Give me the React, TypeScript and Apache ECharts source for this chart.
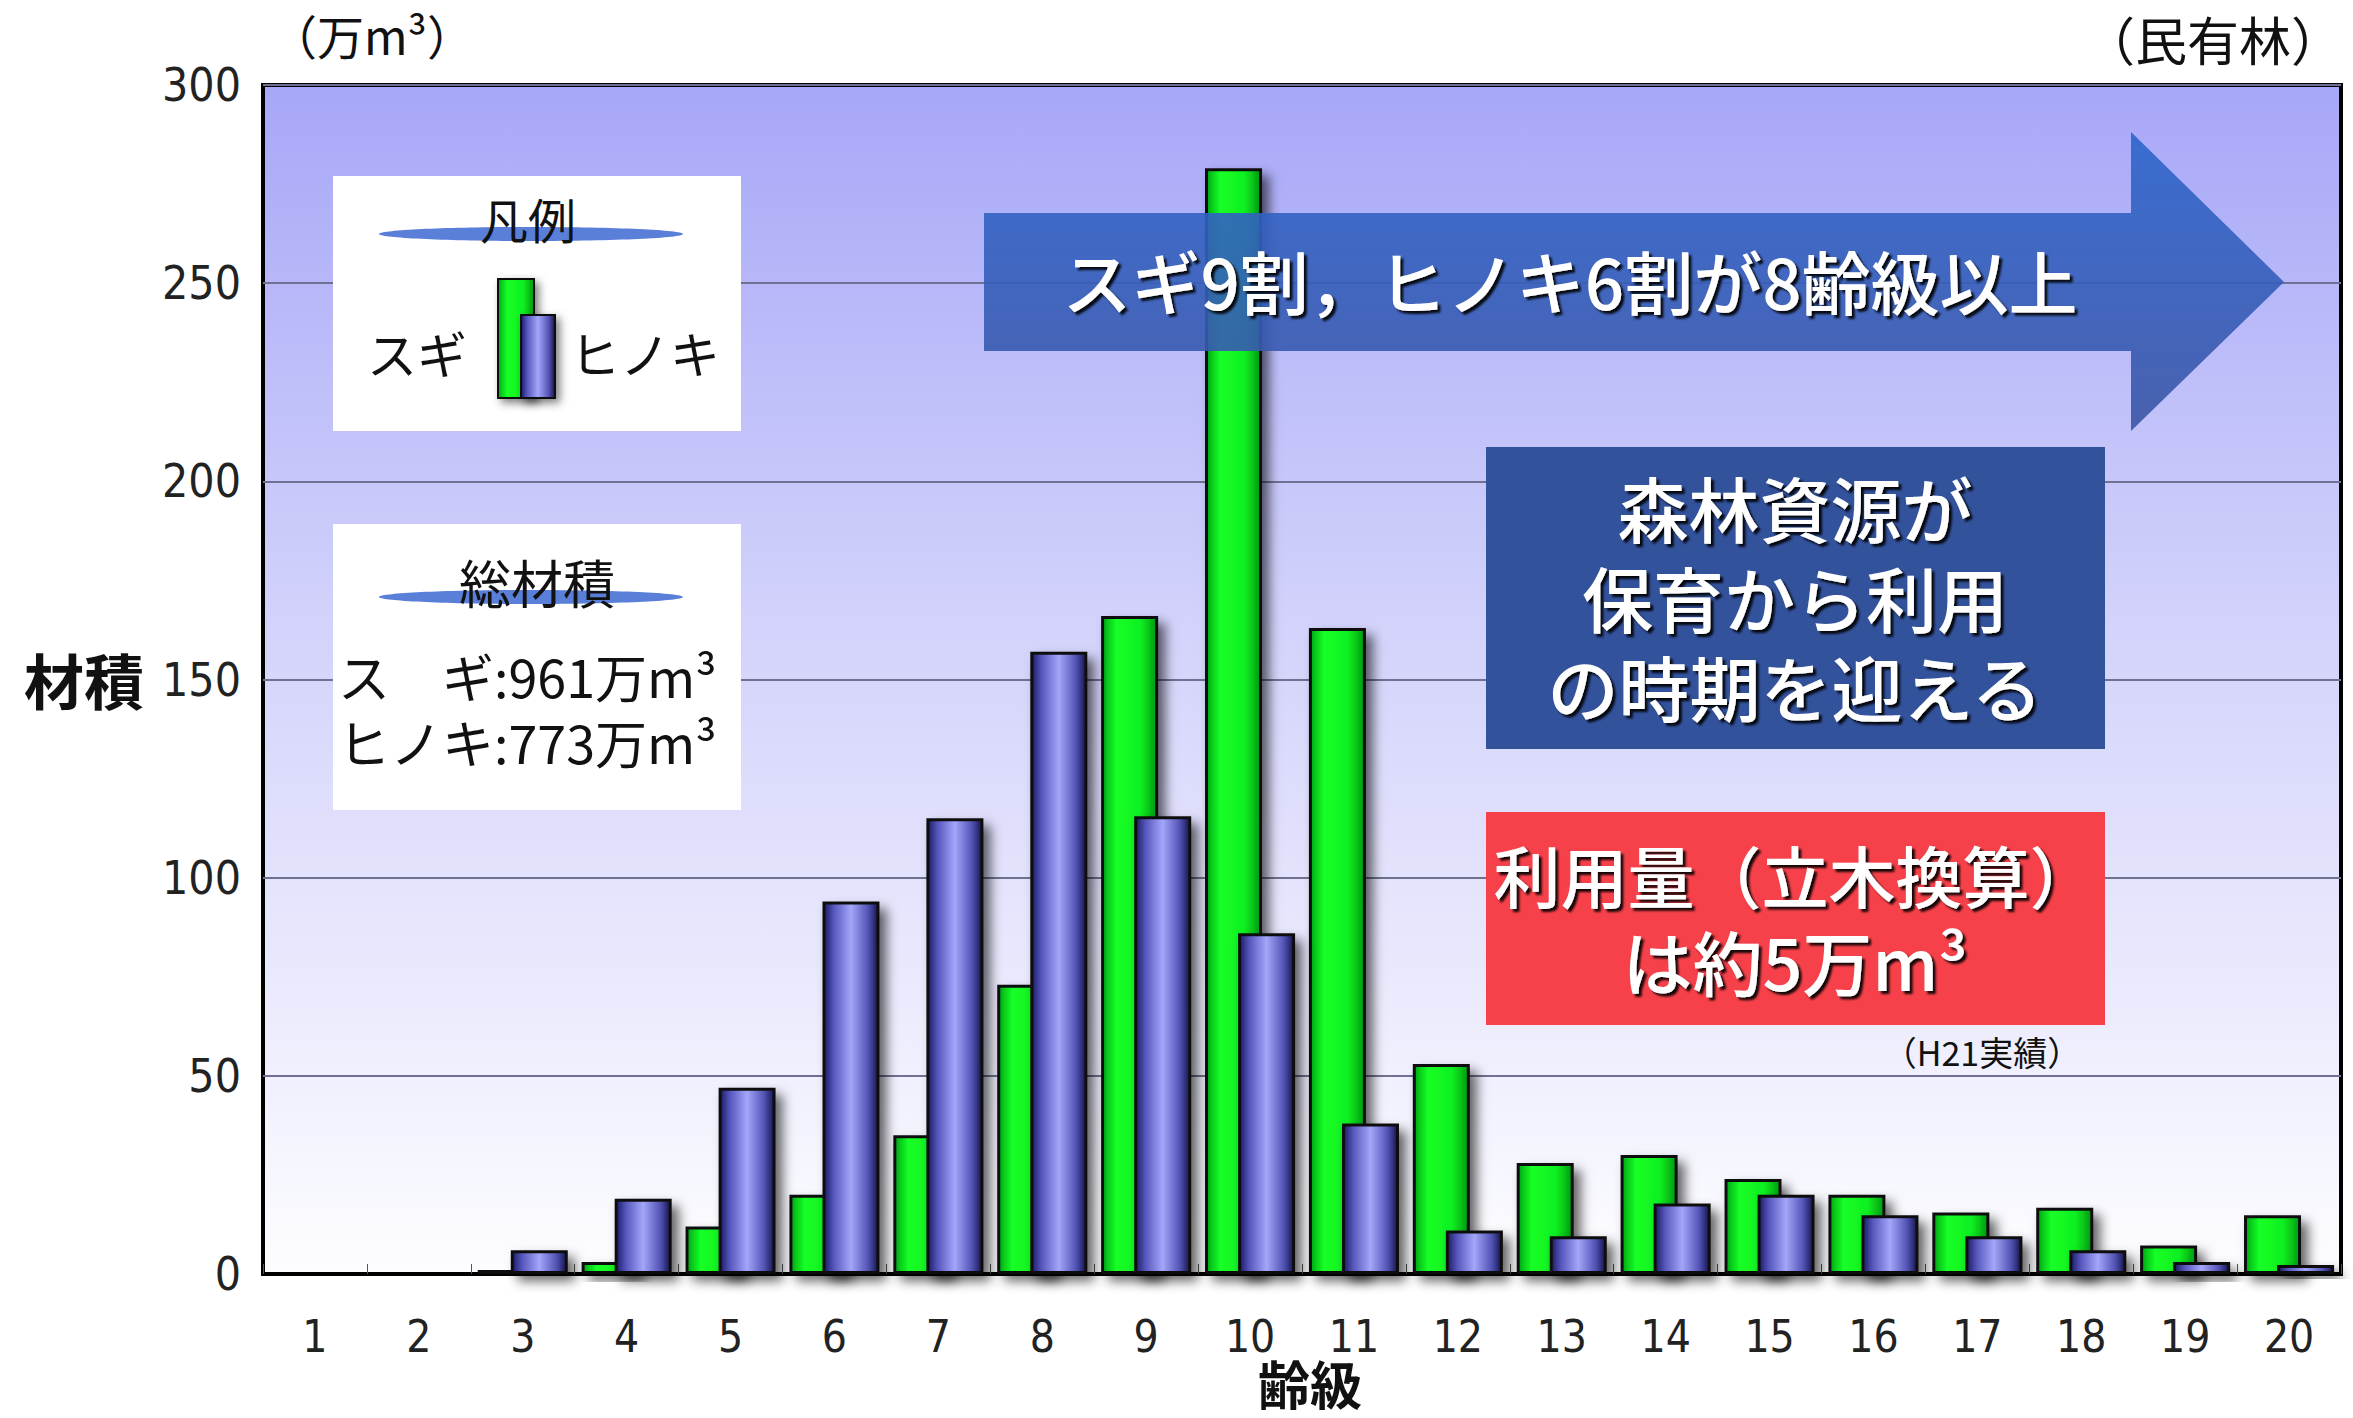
import React, { useEffect, useRef } from "react";
import * as echarts from "echarts";

const categories = ["1","2","3","4","5","6","7","8","9","10","11","12","13","14","15","16","17","18","19","20"];
const sugiValues = [0, 0, 1, 3, 12, 20, 35, 73, 166, 279, 163, 53, 28, 30, 24, 20, 15.5, 16.7, 7.2, 14.8];
const hinokiValues = [0, 0, 6, 19, 47, 94, 115, 157, 115.5, 86, 38, 11, 9.5, 17.8, 20, 14.8, 9.5, 6, 3, 2.3];
const yMin = 0;
const yMax = 300;
const yInterval = 50;

const AXIS_FONT = '"Liberation Sans Narrow", "Arial Narrow", "DejaVu Sans Condensed", sans-serif';
const JP_FONT = '"Noto Sans CJK JP", "Noto Sans", sans-serif';

const greenFill = {
  type: "linear", x: 0, y: 0, x2: 1, y2: 0,
  colorStops: [
    { offset: 0, color: "#00a814" },
    { offset: 0.25, color: "#14ff26" },
    { offset: 0.7, color: "#10f020" },
    { offset: 1, color: "#009a10" },
  ],
};
const blueFill = {
  type: "linear", x: 0, y: 0, x2: 1, y2: 0,
  colorStops: [
    { offset: 0, color: "#1a1a66" },
    { offset: 0.18, color: "#5656bc" },
    { offset: 0.5, color: "#a3a6fa" },
    { offset: 0.82, color: "#5252b4" },
    { offset: 1, color: "#15154f" },
  ],
};

const whiteText = (text: string, x: number, y: number, size: number) => ({
  type: "text",
  x, y, z: 120,
  style: {
    text, x: 0, y: 0,
    fill: "#ffffff",
    font: `500 ${size}px ${JP_FONT}`,
    fontSize: size, fontFamily: JP_FONT, fontWeight: 500, lineHeight: size,
    align: "center", verticalAlign: "middle",
    textAlign: "center", textVerticalAlign: "middle",
    textShadowColor: "rgba(0,0,0,0.9)", textShadowBlur: 2, textShadowOffsetX: 3, textShadowOffsetY: 3,
  },
});

const blackText = (text: string, x: number, y: number, size: number, weight: any = "normal", align = "center") => ({
  type: "text",
  x, y, z: 120,
  style: {
    text, x: 0, y: 0,
    fill: "#111111",
    font: `${weight} ${size}px ${JP_FONT}`,
    fontSize: size, fontFamily: JP_FONT, fontWeight: weight, lineHeight: size,
    align, verticalAlign: "middle",
    textAlign: align, textVerticalAlign: "middle",
  },
});

const barShadow = {
  shadowColor: "rgba(0,0,0,0.6)", shadowBlur: 12, shadowOffsetX: 7, shadowOffsetY: 7,
};

export default function App() {
  const ref = useRef<HTMLDivElement>(null);
  useEffect(() => {
    if (!ref.current) return;
    const chart = echarts.init(ref.current, null, { renderer: "svg" });
    const option: any = {
      animation: false,
      backgroundColor: "#ffffff",
      grid: {
        left: 263, right: 12, top: 85, bottom: 144,
        show: true, borderColor: "#000", borderWidth: 4,
        backgroundColor: {
          type: "linear", x: 0, y: 0, x2: 0, y2: 1,
          colorStops: [
            { offset: 0, color: "#a7a7f8" },
            { offset: 0.45, color: "#d2d2fb" },
            { offset: 1, color: "#fdfdff" },
          ],
        },
      },
      xAxis: {
        type: "category",
        data: categories,
        axisLine: { show: true, lineStyle: { color: "#000", width: 4 } },
        axisTick: { show: true, inside: true, length: 10, lineStyle: { color: "#555", width: 1 } },
        axisLabel: { fontSize: 44, lineHeight: 44, fontFamily: AXIS_FONT, color: "#222", margin: 40 },
      },
      yAxis: {
        type: "value",
        min: yMin, max: yMax, interval: yInterval,
        axisLine: { show: false },
        axisTick: { show: false },
        axisLabel: { fontSize: 46, fontFamily: AXIS_FONT, color: "#222", margin: 22 },
        splitLine: { lineStyle: { color: "#707090", width: 2 } },
      },
      series: [
        {
          name: "スギ", type: "bar", data: sugiValues,
          barWidth: 57, barGap: "-42%",
          itemStyle: { color: greenFill, borderColor: "#111", borderWidth: 3, ...barShadow },
          z: 2,
        },
        {
          name: "ヒノキ", type: "bar", data: hinokiValues,
          barWidth: 57, barGap: "-42%",
          itemStyle: { color: blueFill, borderColor: "#111", borderWidth: 3, ...barShadow },
          z: 3,
        },
      ],
      graphic: [
        blackText("（万m³）", 372, 34, 47),
        blackText("（民有林）", 2213, 38, 52),
        blackText("材積", 84, 678, 60, "bold"),
        blackText("齢級", 1310, 1382, 52, "bold"),
        // legend box 1
        { type: "rect", z: 110, shape: { x: 333, y: 176, width: 408, height: 255 }, style: { fill: "#ffffff" } },
        { type: "ellipse", z: 111, shape: { cx: 531, cy: 234, rx: 152, ry: 7 }, style: { fill: "#5a7fd9" } },
        blackText("凡例", 528, 218, 48),
        {
          type: "rect", z: 112, shape: { x: 498, y: 279, width: 36, height: 119 },
          style: { fill: greenFill, stroke: "#111", lineWidth: 2, shadowColor: "rgba(0,0,0,0.5)", shadowBlur: 8, shadowOffsetX: 4, shadowOffsetY: 4 },
        },
        {
          type: "rect", z: 113, shape: { x: 521, y: 315, width: 34, height: 83 },
          style: { fill: blueFill, stroke: "#111", lineWidth: 2, shadowColor: "rgba(0,0,0,0.5)", shadowBlur: 8, shadowOffsetX: 4, shadowOffsetY: 4 },
        },
        blackText("スギ", 417, 352, 50),
        blackText("ヒノキ", 645, 352, 50),
        // legend box 2
        { type: "rect", z: 110, shape: { x: 333, y: 524, width: 408, height: 286 }, style: { fill: "#ffffff" } },
        { type: "ellipse", z: 111, shape: { cx: 531, cy: 597, rx: 152, ry: 7 }, style: { fill: "#5a7fd9" } },
        blackText("総材積", 537, 581, 52),
        blackText("ス　ギ:961万m³", 338, 675, 52, "normal", "left"),
        blackText("ヒノキ:773万m³", 338, 741, 52, "normal", "left"),
        // arrow
        {
          type: "polygon", z: 115,
          shape: { points: [[984, 213], [2131, 213], [2131, 132], [2284, 282], [2131, 431], [2131, 351], [984, 351]] },
          style: {
            fill: {
              type: "linear", x: 0, y: 0, x2: 0, y2: 1,
              colorStops: [{ offset: 0, color: "#2e66cc" }, { offset: 1, color: "#3c56a6" }],
            },
            opacity: 0.9,
          },
        },
        whiteText("スギ9割，ヒノキ6割が8齢級以上", 1570, 280, 69),
        // dark blue box
        { type: "rect", z: 115, shape: { x: 1486, y: 447, width: 619, height: 302 }, style: { fill: "#33529c" } },
        whiteText("森林資源が", 1795, 506, 71),
        whiteText("保育から利用", 1795, 596, 71),
        whiteText("の時期を迎える", 1795, 685, 71),
        // red box
        { type: "rect", z: 115, shape: { x: 1486, y: 812, width: 619, height: 213 }, style: { fill: "#f7414a" } },
        whiteText("利用量（立木換算）", 1795, 873, 67),
        whiteText("は約5万m³", 1795, 960, 70),
        blackText("（H21実績）", 1982, 1051, 34),
      ],
    };
    chart.setOption(option);
    return () => chart.dispose();
  }, []);
  return <div ref={ref} style={{ position: "fixed", left: 0, top: 0, width: 2353, height: 1418, background: "#fff" }} />;
}
